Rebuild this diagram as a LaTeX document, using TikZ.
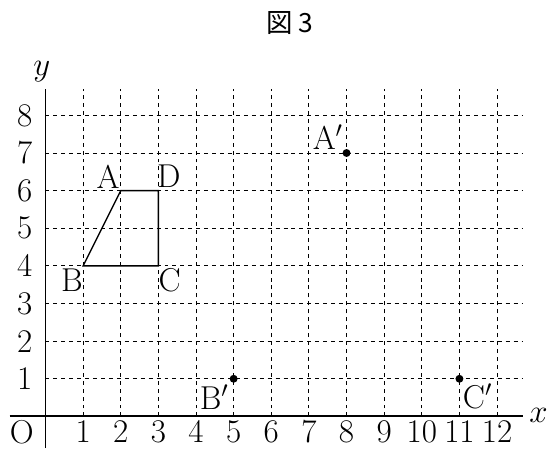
\documentclass[tikz,border=0pt]{standalone}
\usepackage{fontspec}
\newfontfamily\jpfont{Noto Sans CJK JP}

\begin{document}
\begin{tikzpicture}[x=1cm, y=1cm,
  lbl/.style={font=\fontsize{25}{28}\selectfont, inner sep=0pt},
  grd/.style={dashed, line width=0.75pt},
  axis/.style={line width=1.4pt},
  dot/.style={circle, fill, inner sep=0pt, minimum size=6pt}]
\useasboundingbox (-1.209,-0.84) rectangle (13.54,11.066);
\node[lbl, font=\jpfont\fontsize{20}{24}\selectfont] (title) at (6.5,10.45) {図 3};
% grid
\foreach \i in {1,...,12}
  \draw[grd] (\i,0) -- (\i,8.7);
\foreach \j in {1,...,8}
  \draw[grd] (0,\j) -- (12.7,\j);
% axes
\coordinate (xl) at (-0.95,0);
\coordinate (xr) at (12.7,0);
\coordinate (yb) at (0,-0.84);
\coordinate (yt) at (0,8.7);
\draw[axis] (xl) -- (xr);
\draw[axis] (yb) -- (yt);
\node[lbl] (xlab) at (13.1,0.02) {$x$};
\node[lbl] (ylab) at (-0.1,9.15) {$y$};
\node[lbl] (orig) at (-0.63,-0.41) {O};
\foreach \i in {1,...,12}
  \node[lbl] (tx\i) at (\i,-0.41) {\i};
\foreach \j in {1,...,8}
  \node[lbl] (ty\j) at (-0.55,\j) {\j};
% quadrilateral ABCD
\coordinate (A) at (2,6);
\coordinate (B) at (1,4);
\coordinate (C) at (3,4);
\coordinate (D) at (3,6);
\draw[line width=1pt] (B) -- (A) -- (D) -- (C) -- cycle;
\node[lbl] (la) at (1.66,6.37) {A};
\node[lbl] (lb) at (0.70,3.62) {B};
\node[lbl] (lc) at (3.30,3.62) {C};
\node[lbl] (ld) at (3.28,6.37) {D};
% images
\node[dot] (Ap) at (8,7) {};
\node[dot] (Bp) at (5,1) {};
\node[dot] (Cp) at (11,1) {};
\node[lbl] (lap) at (7.5,7.42) {A$'$};
\node[lbl] (lbp) at (4.48,0.52) {B$'$};
\node[lbl] (lcp) at (11.48,0.52) {C$'$};
\end{tikzpicture}
\end{document}
